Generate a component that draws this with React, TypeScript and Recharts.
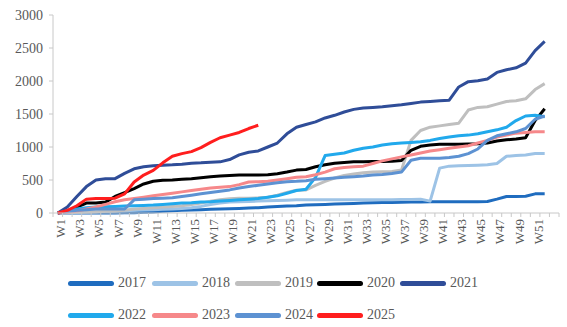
import React from 'react'
import { Legend, Line, LineChart, XAxis, YAxis } from 'recharts'

const weeks = [
  'W1', 'W2', 'W3', 'W4', 'W5', 'W6', 'W7', 'W8', 'W9', 'W10', 'W11', 'W12', 'W13',
  'W14', 'W15', 'W16', 'W17', 'W18', 'W19', 'W20', 'W21', 'W22', 'W23', 'W24', 'W25', 'W26',
  'W27', 'W28', 'W29', 'W30', 'W31', 'W32', 'W33', 'W34', 'W35', 'W36', 'W37', 'W38', 'W39',
  'W40', 'W41', 'W42', 'W43', 'W44', 'W45', 'W46', 'W47', 'W48', 'W49', 'W50', 'W51', 'W52', '',
]

const y2017 = [0, 0, 0, 0, 0, 0, 0, 2, 5, 10, 15, 25, 35, 40, 45, 50, 55, 60, 65, 70, 75, 80, 90, 100, 105, 110, 120, 125, 130, 135, 140, 145, 150, 155, 158, 160, 163, 165, 168, 170, 170, 170, 170, 170, 172, 175, 210, 250, 250, 255, 290, 290]
const y2018 = [0, 5, 10, 15, 20, 25, 30, 35, 40, 45, 50, 55, 60, 70, 80, 100, 130, 150, 165, 170, 175, 180, 185, 190, 195, 200, 200, 200, 200, 200, 200, 200, 200, 200, 200, 200, 205, 205, 210, 180, 680, 710, 715, 720, 725, 730, 750, 860, 870, 880, 900, 900]
const y2019 = [0, 5, 10, 15, 20, 25, 30, 40, 60, 70, 80, 90, 100, 110, 130, 150, 180, 200, 215, 225, 225, 230, 240, 270, 310, 345, 350, 420, 480, 530, 570, 590, 610, 620, 625, 630, 650, 1100, 1250, 1300, 1320, 1340, 1360, 1560, 1600, 1610, 1650, 1690, 1700, 1730, 1870, 1960]
const y2020 = [0, 30, 90, 150, 150, 165, 250, 310, 370, 440, 480, 495, 500, 510, 520, 535, 550, 560, 570, 575, 575, 575, 580, 595, 620, 650, 660, 700, 730, 755, 765, 775, 775, 780, 780, 785, 795, 950, 1010, 1030, 1040, 1040, 1040, 1045, 1050, 1060, 1090, 1110, 1120, 1140, 1400, 1580]
const y2021 = [0, 90, 250, 400, 500, 520, 520, 600, 670, 700, 715, 725, 730, 740, 755, 760, 770, 775, 810, 880, 920, 940, 1000, 1060, 1200, 1300, 1340, 1380, 1440, 1480, 1530, 1570, 1590, 1600, 1610, 1625, 1640, 1660, 1680, 1690, 1700, 1710, 1910, 1990, 2005, 2030, 2130, 2170, 2200, 2270, 2460, 2600]
const y2022 = [0, 30, 60, 80, 90, 95, 100, 105, 110, 115, 120, 130, 140, 150, 155, 165, 170, 180, 190, 200, 210, 220, 240, 260, 300, 340, 360, 540, 870, 890, 910, 950, 980, 1000, 1030, 1050, 1060, 1070, 1080, 1100, 1130, 1150, 1170, 1180, 1200, 1230, 1260, 1300, 1400, 1470, 1480, 1460]
const y2023 = [0, 10, 30, 60, 90, 130, 170, 200, 220, 240, 260, 280, 300, 320, 340, 360, 380, 390, 400, 430, 470, 475, 480, 500, 520, 540, 550, 580, 620, 670, 690, 700, 710, 750, 790, 820, 850, 880, 910, 940, 960, 980, 1000, 1020, 1060, 1100, 1150, 1180, 1210, 1220, 1230, 1230]
const y2024 = [0, 20, 40, 50, 60, 60, 60, 60, 200, 210, 220, 225, 230, 250, 270, 290, 310, 330, 350, 380, 400, 420, 440, 460, 475, 480, 490, 510, 520, 530, 540, 550, 560, 575, 585, 600, 620, 800, 830, 830, 830, 840, 860, 900, 970, 1100, 1170, 1200, 1230, 1280, 1420, 1470]
const y2025 = [0, 40, 110, 210, 220, 220, 225, 290, 470, 575, 645, 760, 860, 900, 930, 990, 1070, 1140, 1180, 1220, 1280, 1330]

const yTicks = [0, 500, 1000, 1500, 2000, 2500, 3000]

const series = [
  { key: '2017', values: y2017, color: '#1f6cbf' },
  { key: '2018', values: y2018, color: '#9dc3e6' },
  { key: '2019', values: y2019, color: '#bfbfbf' },
  { key: '2020', values: y2020, color: '#000000' },
  { key: '2021', values: y2021, color: '#2f4d98' },
  { key: '2022', values: y2022, color: '#21a9ec' },
  { key: '2023', values: y2023, color: '#f6888a' },
  { key: '2024', values: y2024, color: '#5d92d2' },
  { key: '2025', values: y2025, color: '#ff1e1e' },
]

const data = weeks.map((week, i) => {
  const row: Record<string, string | number | null> = { week }
  series.forEach(s => {
    row[s.key] = i < s.values.length ? s.values[i] : null
  })
  return row
})

const FONT = '"Liberation Serif", "Times New Roman", serif'
const TEXT = '#595959'
const AXIS = '#c8c8c8'
const PLOT_LEFT = 53
const PLOT_RIGHT = 559
const STEP = (PLOT_RIGHT - PLOT_LEFT) / weeks.length

function WeekTick(props: any) {
  const { x, y, payload, index } = props
  const left = x - STEP / 2
  const last = index === weeks.length - 1
  return (
    <g>
      <line x1={left} x2={left} y1={y - 4} y2={y} stroke={AXIS} />
      {last && <line x1={x + STEP / 2} x2={x + STEP / 2} y1={y - 4} y2={y} stroke={AXIS} />}
      {index % 2 === 0 && payload.value && (
        <text
          x={x + 3}
          y={y + 2}
          transform={`rotate(-90, ${x + 3}, ${y + 2})`}
          textAnchor="end"
          dominantBaseline="central"
          fontFamily={FONT}
          fontSize={13}
          fill={TEXT}
        >
          {payload.value}
        </text>
      )}
    </g>
  )
}

const legendCols = [68, 152, 235, 317, 400]

function YearLegend() {
  return (
    <div style={{ position: 'relative', width: 567, height: 60 }}>
      {series.map((s, i) => {
        const col = legendCols[i % 5]
        const top = i < 5 ? 16 : 48
        return (
          <div
            key={s.key}
            style={{ position: 'absolute', left: col, top: top - 10, height: 20, display: 'flex', alignItems: 'center' }}
          >
            <div style={{ width: 46, height: 5, borderRadius: 3, background: s.color }} />
            <span style={{ marginLeft: 4, fontFamily: FONT, fontSize: 14, color: TEXT }}>{s.key}</span>
          </div>
        )
      })}
    </div>
  )
}

export default function App() {
  return (
    <div style={{ position: 'absolute', left: 0, top: 0, background: '#fff' }}>
      <LineChart width={567} height={327} data={data} margin={{ top: 15, right: 8, bottom: 0, left: 0 }}>
        <XAxis
          dataKey="week"
          interval={0}
          tick={<WeekTick />}
          tickLine={false}
          tickSize={4}
          tickMargin={0}
          height={54}
          padding={{ left: STEP / 2, right: STEP / 2 }}
          axisLine={{ stroke: AXIS }}
        />
        <YAxis
          domain={[0, 3000]}
          ticks={yTicks}
          width={53}
          tickSize={4}
          tickMargin={6}
          tick={{ fontFamily: FONT, fontSize: 14, fill: TEXT }}
          tickLine={{ stroke: AXIS }}
          axisLine={{ stroke: AXIS }}
        />
        <Legend verticalAlign="bottom" content={<YearLegend />} />
        {series.map(s => (
          <Line
            key={s.key}
            dataKey={s.key}
            stroke={s.color}
            strokeWidth={3}
            dot={false}
            activeDot={false}
            connectNulls={false}
            strokeLinejoin="round"
            isAnimationActive={false}
          />
        ))}
      </LineChart>
    </div>
  )
}
